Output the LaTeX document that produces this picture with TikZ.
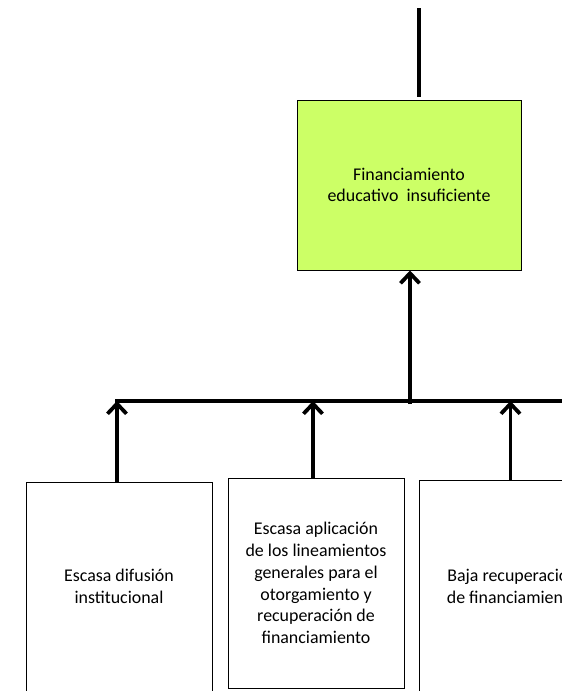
\documentclass[tikz,border=0pt]{standalone}
\usepackage{fontspec}
\setmainfont{Carlito}
\usetikzlibrary{arrows.meta}
\definecolor{boxgreen}{RGB}{204,255,102}
\begin{document}
\begin{tikzpicture}[x=1pt,y=-1pt,
  box/.style={draw=black,line width=1pt,align=center,inner sep=0pt,
    font=\fontsize{17.9}{21.8}\selectfont},
  conn/.style={line width=3.8pt},
  arr/.style={conn,-{Straight Barb[length=10pt,width=19pt]}}]
\useasboundingbox (0,0) rectangle (562,691);
\clip (0,0) rectangle (562,691);
\fill[white] (0,0) rectangle (562,691);
\node[box,fill=boxgreen,minimum width=224pt,minimum height=170pt] (green) at (409,185)
  {Financiamiento\\educativo\ \ insuficiente};
\node[box,minimum width=186pt,minimum height=209pt] (b1) at (119,586.5)
  {Escasa difusión\\institucional};
\node[box,minimum width=176pt,minimum height=210pt] (b2) at (316,583)
  {Escasa aplicación\\de los lineamientos\\generales para el\\otorgamiento y\\recuperación de\\financiamiento};
\node[box,minimum width=186pt,minimum height=211pt,anchor=north west] (b3) at (419,480)
  {Baja recuperación\\de financiamiento};
\coordinate (top) at (419,8);
\coordinate (busL) at (115,401);
\coordinate (busR) at (580,401);
\coordinate (junc) at (410,404);
\draw[conn] (top) -- ([yshift=3pt]top |- green.north);
\draw[conn] (busL) -- (busR);
\draw[arr] (junc) -- (junc |- green.south);
\draw[arr] ([xshift=-2pt]b1.north) -- ([xshift=-2pt]b1.north |- busL);
\draw[arr] ([xshift=-3pt]b2.north) -- ([xshift=-3pt]b2.north |- busL);
\draw[arr] ([xshift=-2pt]b3.north) -- ([xshift=-2pt]b3.north |- busL);
\end{tikzpicture}
\end{document}
